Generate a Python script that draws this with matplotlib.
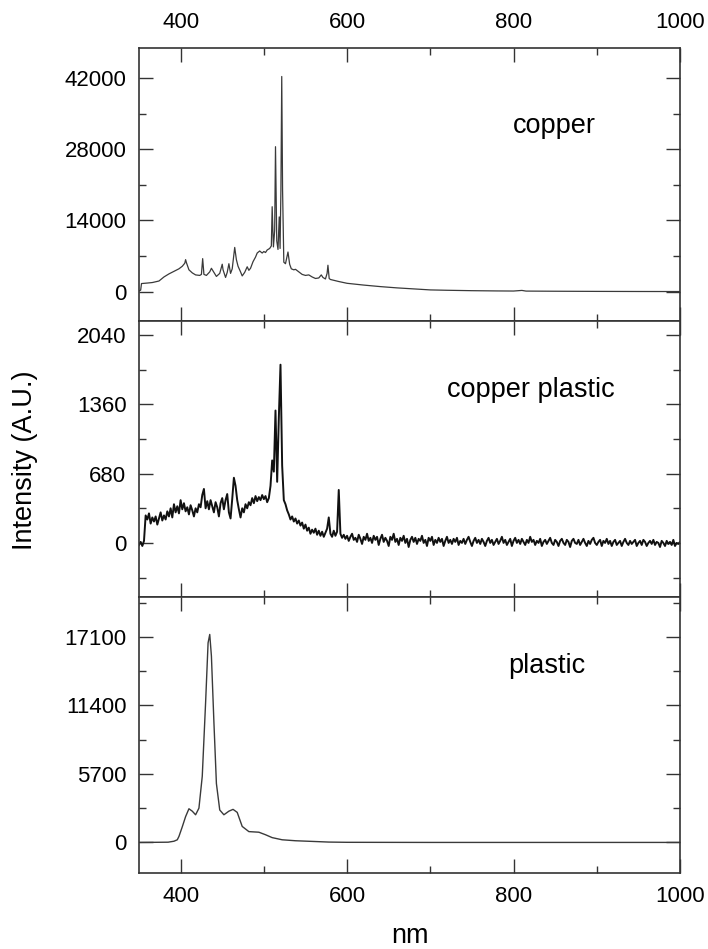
import matplotlib
matplotlib.use("Agg")
import matplotlib.pyplot as plt
from matplotlib.ticker import MultipleLocator, FixedLocator
import numpy as np

plt.rcParams['font.family'] = ['Liberation Sans', 'DejaVu Sans']

# copper spectrum (nm, intensity)
copper_nm = [350, 352, 353, 360, 366, 374, 380, 386, 392, 398, 402, 405, 406, 407, 410, 414,
             418, 423, 425, 426.5, 428, 431, 435, 437, 440, 443, 447, 450, 451, 454, 456, 458,
             460, 462, 465, 467, 469, 472, 474, 477, 480, 482, 484, 487, 490, 492, 495, 498,
             500, 502, 504, 507, 509, 510, 511.5, 513, 514, 515.5, 517, 518.5, 519.5, 520.5,
             521.5, 522.5, 524, 526, 529, 531, 533, 536, 538, 542, 546, 550, 554, 558, 562,
             566, 569, 571, 574, 576, 577, 578.5, 580, 590, 600, 620, 640, 660, 680, 700,
             720, 750, 780, 800, 810, 815, 850, 900, 950, 1000]
copper_int = [150, 300, 1600, 1700, 1800, 2100, 2900, 3500, 4000, 4500, 5000, 5600, 6300, 5700,
              4300, 3700, 3300, 3200, 3400, 6500, 3400, 3200, 3900, 4600, 3800, 3000, 3600,
              5400, 4300, 2800, 3800, 5500, 3600, 4500, 8700, 6300, 5000, 3900, 3100, 3800,
              4900, 4200, 4600, 5900, 6800, 7600, 8000, 7600, 7900, 7700, 8200, 8500, 9000,
              16700, 8800, 12000, 28500, 10000, 8300, 14700, 8500, 20000, 42300, 20000, 5800,
              5500, 7800, 5400, 4500, 4300, 4400, 3900, 3400, 3200, 3300, 2900, 2600, 2700,
              3300, 2800, 2500, 3600, 5200, 2600, 2400, 2000, 1650, 1300, 1000, 750, 550, 350,
              280, 200, 150, 130, 250, 120, 90, 60, 40, 30]

# copper plastic spectrum, one reading every 2 nm from 350 to 1000
cp_nm = np.arange(350, 1001, 2)
cp_int = [
    -20, 10, -30, 20, 270,      230, 290, 190, 250, 210,
    260, 180, 240, 300, 220,    270, 230, 310, 260, 340,
    250, 380, 300, 360, 290,    420, 330, 390, 310, 350,
    280, 370, 320, 260, 340,    300, 380, 350, 470, 530,
    340, 410, 330, 420, 360,    300, 400, 350, 260, 390,
    440, 330, 420, 480, 300,    240, 430, 640, 560, 420,
    330, 250, 340, 300, 380,    340, 400, 370, 440, 390,
    460, 410, 450, 420, 470,    430, 460, 400, 440, 560,
    810, 700, 1300, 600, 1230,  1750, 760, 420, 380, 320,
    280, 230, 260, 210, 240,    190, 220, 170, 200, 140,
    180, 120, 150, 90, 130,     100, 140, 80, 120, 70,
    110, 60, 100, 140, 250,     90, 60, 120, 70, 110,
    520, 90, 50, 80, 40,        70, 20, 60, 90, 30,
    50, 10, 80, 40, -10,        60, 30, 90, 20, 50,
    0, 70, 30, 60, -20,         40, 80, 10, 50, 20,
    -30, 60, 30, 90, 10,        40, -20, 50, 20, 70,
    0, 40, -40, 30, 60,         10, 50, -10, 40, 20,
    70, 0, 30, -30, 50,         20, 60, -20, 30, 0,
    50, 10, 40, -30, 20,        60, 0, 30, -10, 40,
    10, 50, -20, 20, 0,         40, -10, 30, 60, 10,
    -30, 20, 50, 0, 30,         -10, 40, 10, -30, 20,
    50, 0, 30, -20, 10,         40, -10, 20, 60, 0,
    30, -20, 10, 40, -30,       20, 50, 0, 30, -10,
    40, 10, -20, 30, 0,         60, 10, 30, -20, 20,
    0, 40, -30, 10, 30,         -10, 20, 50, 0, -20,
    30, 10, -30, 20, 40,        0, -20, 30, 10, -40,
    20, 40, 0, -10, 30,         -20, 10, 40, 0, -30,
    20, -10, 30, 50, 0,         -20, 10, 30, -30, 20,
    0, 40, -10, 20, -30,        10, 30, -20, 0, 20,
    -30, 10, 40, 0, -20,        20, -10, 10, 30, -30,
    0, 20, -20, 30, 10,         -30, 0, 20, -10, 30,
    -20, 10, 0, -40, 20,        0, -30, 20, -10, 10,
    -20, 30, -30, 0, -10,       10,
]

# plastic spectrum (nm, intensity)
plastic_nm = [350, 370, 385, 392, 396, 398, 402, 406, 410, 414, 418, 422, 426, 430, 433, 435,
              437, 440, 443, 447, 452, 458, 463, 468, 474, 482, 494, 502, 510, 522, 538, 560,
              578, 600, 700, 800, 900, 1000]
plastic_int = [0, 10, 20, 100, 220, 500, 1300, 2150, 2800, 2600, 2300, 2850, 5500, 11600,
               16600, 17300, 15500, 10000, 4900, 2700, 2300, 2600, 2750, 2500, 1330, 900, 850,
               640, 400, 220, 140, 80, 30, 10, 0, 0, 0, 0]

panels = [
    ("copper", copper_nm, copper_int, (-5760, 47900), [0, 14000, 28000, 42000], 7000),
    ("copper plastic", cp_nm, cp_int, (-531, 2179), [0, 680, 1360, 2040], 340),
    ("plastic", plastic_nm, plastic_int, (-2543, 20415), [0, 5700, 11400, 17100], 2850),
]
label_pos = [(554, 126), (531, 390), (547, 666)]
line_w = [0.9, 1.4, 1.0]
line_c = ['#3a3a3a', '#111111', '#3a3a3a']

W, H = 708, 949
fig = plt.figure(figsize=(W / 100, H / 100), dpi=100)
edges = [48, 321, 597, 873]
left, right = 139, 680

for i, (name, xs, ys, ylim, yticks, yminor) in enumerate(panels):
    top, bot = edges[i], edges[i + 1]
    ax = fig.add_axes([left / W, 1 - bot / H, (right - left) / W, (bot - top) / H])
    n = min(len(xs), len(ys))
    ax.plot(xs[:n], ys[:n], color=line_c[i], lw=line_w[i])
    ax.set_xlim(350, 1000)
    ax.set_ylim(*ylim)
    ax.xaxis.set_major_locator(FixedLocator([400, 600, 800, 1000]))
    ax.xaxis.set_minor_locator(FixedLocator([500, 700, 900]))
    ax.yaxis.set_major_locator(FixedLocator(yticks))
    ax.yaxis.set_minor_locator(MultipleLocator(yminor))
    ax.tick_params(which='both', direction='in', top=True, right=True,
                   width=1.0, color='#333333', labelsize=16)
    ax.tick_params(which='major', length=10)
    ax.tick_params(which='minor', length=5)
    ax.tick_params(axis='y', pad=9)
    for sp in ax.spines.values():
        sp.set_linewidth(1.2)
        sp.set_color('#333333')
    if i == 0:
        ax.tick_params(axis='x', labeltop=True, labelbottom=False, pad=11)
    elif i == 2:
        ax.tick_params(axis='x', labelbottom=True, pad=9)
    else:
        ax.tick_params(axis='x', labelbottom=False)
    lx, ly = label_pos[i]
    fig.text(lx / W, 1 - ly / H, name, ha='center', va='center', fontsize=19.5)

fig.text(409.5 / W, 1 - 936 / H, "nm", ha='center', va='center', fontsize=19.5)
fig.text(25 / W, 1 - 460.5 / H, "Intensity (A.U.)", ha='center', va='center',
         rotation=90, fontsize=19.5)

fig.savefig("out.png", dpi=100)
